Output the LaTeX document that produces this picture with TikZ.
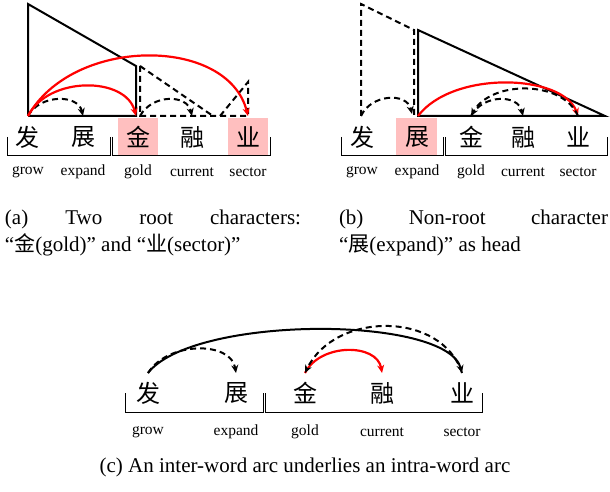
\documentclass[tikz,border=0pt]{standalone}
\usepackage{fontspec}
\setmainfont{Liberation Serif}
\newfontfamily\cjk{Noto Sans CJK SC}
\usetikzlibrary{arrows.meta}
\begin{document}
\begin{tikzpicture}[x=1pt,y=-1pt,line width=2pt,
  ch/.style={font=\cjk\fontsize{24}{24}\selectfont,inner sep=0pt},
  gl/.style={font=\fontsize{15.5}{15.5}\selectfont,inner sep=0pt},
  pink/.style={fill=red!25,draw=none},
  dsh/.style={dashed,dash pattern=on 6pt off 4pt},
  arr/.style={-{Stealth[length=8pt,width=7pt]}},
  redarc/.style={arr,red,line width=2.2pt},
  brk/.style={line width=1pt},
  capl/.style={font=\fontsize{21}{24}\selectfont,inner sep=0pt,anchor=base west}]
\useasboundingbox (0,0) rectangle (610,492);
% ---------- panel (a)
\fill[pink] (118,118) rectangle (158,155);
\fill[pink] (228,118) rectangle (268,155);
\foreach \n/\x/\t/\g in {1/28/发/grow,2/83/展/expand,3/138/金/gold,4/192/融/current,5/248/业/sector}{
  \node[ch] (ac\n) at (\x,137) {\t};
  \node[gl] (ag\n) at (\x,172) {\g};
  \coordinate (a\n) at (\x,116);}
\draw[brk] (7,137) |- (110,155) -- (110,137);
\draw[brk] (112,137) |- (270,155) -- (270,137);
\draw (a1) -- (28,4) -- (136,66) -- (136,116) -- (a1);
\draw[dsh] (140,66) -- (140,116) -- (a5) -- (248,82) -- (220,116);
\draw[dsh] (140,66) -- (213,116);
\draw[dsh,arr] (a1) .. controls +(12,-22) and +(-5,-22) .. (a2);
\draw[dsh,arr] (140,116) .. controls +(12,-22) and +(-5,-22) .. (a4);
\draw[redarc] (a1) .. controls +(20,-40) and +(-10,-40) .. (136,116);
\draw[redarc] (a1) .. controls +(45,-80) and +(-20,-80) .. (a5);
% ---------- panel (b)
\fill[pink] (396,118) rectangle (437,155);
\foreach \n/\x/\t/\g in {1/362/发/grow,2/417/展/expand,3/471/金/gold,4/523/融/current,5/578/业/sector}{
  \node[ch] (bc\n) at (\x,137) {\t};
  \node[gl] (bg\n) at (\x,172) {\g};
  \coordinate (b\n) at (\x,116);}
\draw[brk] (341,137) |- (443,155) -- (443,137);
\draw[brk] (445,137) |- (607,155) -- (607,137);
\draw[dsh] (361,116) -- (361,4) -- (414,30) -- (414,116);
\draw (418,116) -- (418,30) -- (605,116) -- cycle;
\draw[dsh,arr] (361,116) .. controls +(10,-22) and +(-5,-22) .. (412,114);
\draw[redarc] (418,116) .. controls +(35,-46) and +(-15,-42) .. (b5);
\draw[dsh,arr] (b5) .. controls +(-15,-36) and +(20,-36) .. (b3);
\draw[dsh,arr] (b3) .. controls +(12,-22) and +(-5,-22) .. (b4);
% ---------- panel (c)
\foreach \n/\x/\t/\g in {1/148/发/grow,2/236/展/expand,3/305/金/gold,4/382/融/current,5/462/业/sector}{
  \node[ch] (cc\n) at (\x,393) {\t};
  \node[gl] (cg\n) at (\x,432) {\g};
  \coordinate (c\n) at (\x,373);}
\draw[brk] (125,393) |- (263,412) -- (263,393);
\draw[brk] (265,393) |- (482,412) -- (482,393);
\draw[arr] (c1) .. controls +(45,-58) and +(-15,-58) .. (c5);
\draw[dsh,arr] (c1) .. controls +(20,-32) and +(-5,-32) .. (c2);
\draw[redarc] (c3) .. controls +(15,-30) and +(-5,-30) .. (c4);
\draw[dsh,arr] (c5) .. controls +(-20,-62) and +(30,-62) .. (c3);
% ---------- captions
\node[capl,text width=296pt] (capa1) at (4,224) {(a)\hfill Two\hfill root\hfill characters:};
\node[capl] (capa2) at (4,251) {“{\cjk 金}(gold)” and “{\cjk 业}(sector)”};
\node[capl,text width=269pt] (capb1) at (338,224) {(b)\hfill Non-root\hfill character};
\node[capl] (capb2) at (338,251) {“{\cjk 展}(expand)” as head};
\node[font=\fontsize{21}{24}\selectfont,inner sep=0pt,anchor=base] (capc) at (305,472) {(c) An inter-word arc underlies an intra-word arc};
\end{tikzpicture}
\end{document}
